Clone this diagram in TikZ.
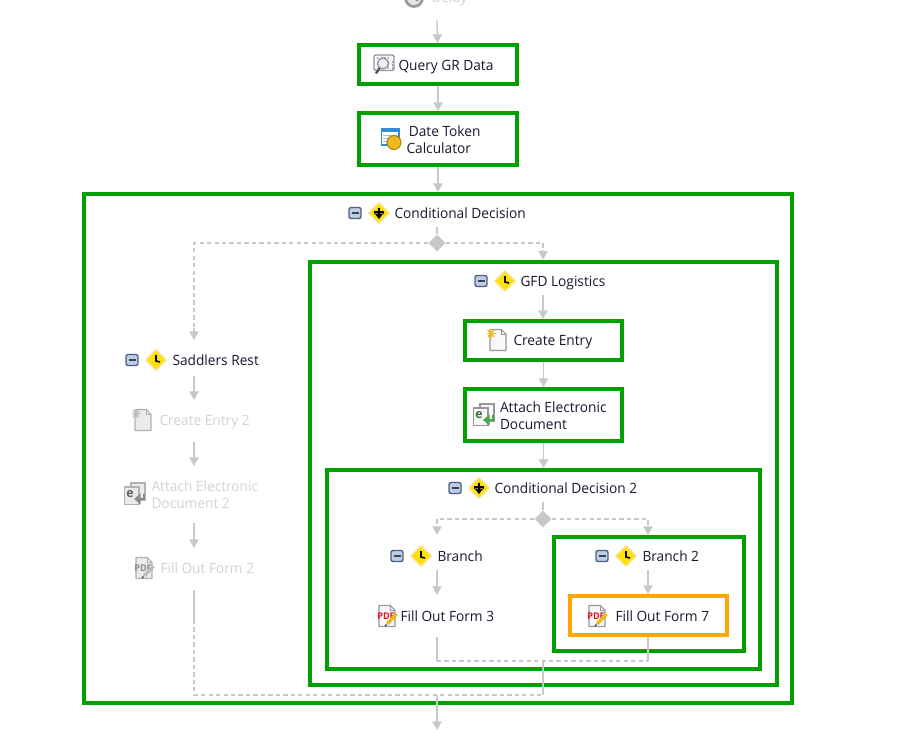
\documentclass[tikz,border=0pt]{standalone}
\usepackage{fontspec}
\setmainfont[FakeStretch=0.97]{Open Sans}
\usepackage{tikz}
\usetikzlibrary{arrows.meta,shapes.geometric}
\definecolor{boxgreen}{RGB}{0,160,0}
\definecolor{boxorange}{RGB}{255,166,0}
\definecolor{flowgray}{RGB}{200,200,200}
\definecolor{labelink}{RGB}{22,24,48}
\definecolor{fadeink}{RGB}{210,210,210}
\definecolor{pagefill}{RGB}{248,248,250}
\definecolor{pageline}{RGB}{150,150,155}
\definecolor{iconred}{RGB}{225,20,30}
\definecolor{icongold}{RGB}{240,185,30}
\definecolor{icongreen}{RGB}{70,170,70}
\definecolor{iconblue}{RGB}{50,140,215}
\definecolor{minusedge}{RGB}{75,95,130}
\definecolor{minusfill}{RGB}{190,205,225}
\definecolor{signyellow}{RGB}{255,225,0}
\definecolor{signedge}{RGB}{250,225,130}
\tikzset{every picture/.style={line width=0.75pt},
  stepbox/.style={draw=boxgreen,line width=3pt,inner sep=0pt},
  formbox/.style={draw=boxorange,line width=3pt,inner sep=0pt},
  steptext/.style={anchor=base west,inner sep=0pt,align=left,text=labelink,font=\fontsize{10.6}{13}\selectfont},
  fadetext/.style={steptext,text=fadeink},
  blocktext/.style={steptext,anchor=west},
  fadeblock/.style={fadetext,anchor=west},
  flow/.style={draw=flowgray,line width=1pt,-{Triangle[length=6.5pt,width=7pt,fill=flowgray]}},
  flowplain/.style={draw=flowgray,line width=1pt},
  flowdash/.style={draw=flowgray,line width=0.9pt,dash pattern=on 3.2pt off 2.4pt},
  forkmark/.style={diamond,fill=flowgray,inner sep=0pt,minimum size=13pt},
  minusicon/.pic={
    \draw[rounded corners=1.5,draw=minusedge,fill=minusfill,line width=1pt] (-6,-5.5) rectangle (6,5.5);
    \draw[draw=minusedge!70!black,line width=1.2pt] (-3.5,0) -- (3.5,0);
  },
  forkicon/.pic={
    \draw[draw=signedge,fill=signyellow,line width=1.2pt,line join=round] (0,10) -- (10,0) -- (0,-10) -- (-10,0) -- cycle;
    \draw[black,line width=1.3pt,-{Triangle[length=4pt,width=6pt]}] (0,5.5) -- (0,-6);
    \draw[black,line width=1.3pt] (-4.5,-1) -- (-4.5,1) -- (4.5,1) -- (4.5,-1);
  },
  clockicon/.pic={
    \draw[draw=signedge,fill=signyellow,line width=1.2pt,line join=round] (0,10) -- (10,0) -- (0,-10) -- (-10,0) -- cycle;
    \draw[black,line width=1.2pt] (0,5) -- (0,-1) -- (4,-2);
  },
  pageicon/.pic={
    \draw[draw=pageline,fill=pagefill,line width=0.8pt,line join=round] (-8,10.5) -- (3.5,10.5) -- (8,6) -- (8,-10.5) -- (-8,-10.5) -- cycle;
    \draw[draw=pageline,line width=0.6pt] (3.5,10.5) -- (3.5,6) -- (8,6);
  },
  newicon/.pic={
    \pic {pageicon};
    \foreach \ang in {0,45,...,315} \draw[icongold,line width=0.9pt] (-7,6.5) -- ++(\ang:4.5);
  },
  pdficon/.pic={
    \pic {pageicon};
    \node[inner sep=0pt,text=iconred,font=\fontsize{7}{7}\selectfont\bfseries] at (-1,-0.5) {PDF};
    \draw[icongold,line width=2.6pt] (0,-8) -- (9.5,2);
    \draw[black!80,line width=1pt] (-2,-10) -- (-0.5,-8.5);
  },
  attachicon/.pic={
    \draw[draw=pageline,fill=pagefill,line width=0.8pt] (-4,11) rectangle (10,-6);
    \draw[draw=pageline,fill=pagefill,line width=0.8pt] (-10.5,7) rectangle (4,-10.5);
    \node[inner sep=0pt,text=icongreen!70!black,font=\fontsize{9.5}{9}\selectfont\bfseries] at (-5,0) {e};
    \draw[icongreen,line width=2.2pt,-{Triangle[length=5pt,width=8pt]}] (9,0) -- (9,-5) -- (-1,-5);
  },
  queryicon/.pic={
    \draw[draw=pageline,fill=pagefill,line width=1pt,rounded corners=1] (-10,9) rectangle (10,-6.5);
    \draw[draw=pageline,line width=0.8pt,dotted] (-7,6) -- (7,6) (4,2) -- (8,2) (4,-1) -- (8,-1) (4,-4) -- (8,-4);
    \draw[draw=pageline,fill=iconblue!12,line width=1pt] (-1,0.5) circle (5.5);
    \draw[draw=pageline!60!black,line width=1.8pt] (-4.5,-4) -- (-8,-9.5);
  },
  calcicon/.pic={
    \draw[draw=iconblue,fill=white,line width=1pt] (-9.5,10) rectangle (8,-6);
    \fill[iconblue] (-9.5,10) rectangle (8,7);
    \draw[iconblue!50,line width=0.6pt] (-8,4) -- (6,4) (-8,1) -- (0,1) (-8,-2) -- (-3,-2);
    \draw[draw=icongold!70!black,fill=icongold,line width=0.8pt] (3,-3.5) circle (7);
  },
  delayicon/.pic={
    \draw[draw=black!40,fill=black!10,line width=2pt] (0,0) circle (8.5);
    \draw[black!45,line width=1.2pt] (0,5) -- (0,0) -- (4,-3);
  }
}

\begin{document}
\begin{tikzpicture}[x=0.75pt,y=0.75pt,yscale=-1,xscale=1]
\useasboundingbox (0,0) rectangle (904,744);

% Boxes
\draw (438,64.5) node (qrybox) [stepbox,minimum width=119pt,minimum height=29.25pt] {};
\draw (438,139) node (datebox) [stepbox,minimum width=119pt,minimum height=39pt] {};
\draw (438,448.5) node (condbox) [stepbox,minimum width=531pt,minimum height=381.75pt] {};
\draw (543.5,473.5) node (gfdbox) [stepbox,minimum width=350.25pt,minimum height=317.6pt] {};
\draw (543.5,340.5) node (entrybox) [stepbox,minimum width=118.1pt,minimum height=29.25pt] {};
\draw (543.5,415) node (attachbox) [stepbox,minimum width=118.1pt,minimum height=39pt] {};
\draw (543.5,569.5) node (cond2box) [stepbox,minimum width=324.75pt,minimum height=149.25pt] {};
\draw (649,594) node (branchbox) [stepbox,minimum width=142.5pt,minimum height=85.5pt] {};
\draw (648.5,615.5) node (formrect) [formbox,minimum width=118.1pt,minimum height=29.25pt] {};

% Fork marks
\draw (437,243) node (fork) [forkmark] {};
\draw (543,519) node (fork2) [forkmark] {};

% Flow points
\coordinate (delayout) at (437,20);
\coordinate (condout) at (437,227);
\coordinate (saddturn) at (194,243);
\coordinate (saddfoot) at (194,328);
\coordinate (saddtip) at (194,340);
\coordinate (saddout) at (194,376);
\coordinate (saddin) at (194,400);
\coordinate (entry2out) at (194,442);
\coordinate (entry2in) at (194,466);
\coordinate (attach2out) at (194,523);
\coordinate (attach2in) at (194,548);
\coordinate (form2out) at (194,590);
\coordinate (form2mid) at (194,620);
\coordinate (form2low) at (194,695);
\coordinate (gfdturn) at (543,243);
\coordinate (gfdfoot) at (543,250);
\coordinate (gfdout) at (543,295);
\coordinate (cond2out) at (543,502);
\coordinate (brturn) at (437,519);
\coordinate (brfoot) at (437,526);
\coordinate (brtip) at (437,535);
\coordinate (br2turn) at (648,519);
\coordinate (br2foot) at (648,526);
\coordinate (brout) at (437,570);
\coordinate (form3in) at (437,595);
\coordinate (form3out) at (437,637);
\coordinate (form3mid) at (437,661);
\coordinate (joinin) at (648,661);
\coordinate (join) at (543,661);
\coordinate (join2) at (543,695);
\coordinate (endin) at (437,695);
\coordinate (endtip) at (437,730);
\coordinate (br2out) at (648,570);

% Connectors
\draw [flow] (delayout) -- (qrybox);
\draw [flow] (qrybox) -- (datebox);
\draw [flow] (datebox) -- (datebox |- condbox.north);
\draw [flowplain] (condout) -- (fork);
\draw [flowdash] (fork) -- (saddturn) -- (saddfoot);
\draw [flow] (saddfoot) -- (saddtip);
\draw [flowdash] (fork) -- (gfdturn) -- (gfdfoot);
\draw [flow] (gfdfoot) -- (gfdfoot |- gfdbox.north);
\draw [flow] (saddout) -- (saddin);
\draw [flow] (entry2out) -- (entry2in);
\draw [flow] (attach2out) -- (attach2in);
\draw [flowplain] (form2out) -- (form2mid);
\draw [flowdash] (form2mid) -- (form2low) -- (join2);
\draw [flow] (gfdout) -- (gfdout |- entrybox.north);
\draw [flow] (entrybox) -- (attachbox);
\draw [flow] (attachbox) -- (attachbox |- cond2box.north);
\draw [flowplain] (cond2out) -- (fork2);
\draw [flowdash] (fork2) -- (brturn) -- (brfoot);
\draw [flow] (brfoot) -- (brtip);
\draw [flowdash] (fork2) -- (br2turn) -- (br2foot);
\draw [flow] (br2foot) -- (br2foot |- branchbox.north);
\draw [flow] (brout) -- (form3in);
\draw [flow] (br2out) -- (br2out |- formrect.north);
\draw [flowplain] (form3out) -- (form3mid);
\draw [flowplain] (joinin |- formrect.south) -- (joinin);
\draw [flowdash] (form3mid) -- (joinin);
\draw [flowplain] (join) -- (join2);
\draw [flow] (endin) -- (endtip);

% Icons
\pic at (414,-2) {delayicon};
\pic at (384,64) {queryicon};
\pic at (391,139) {calcicon};
\pic at (355,213) {minusicon};
\pic at (379,213) {forkicon};
\pic at (132,360) {minusicon};
\pic at (156,360) {clockicon};
\pic at (481,281) {minusicon};
\pic at (505,281) {clockicon};
\pic at (498,340) {newicon};
\pic at (484,415) {attachicon};
\pic at (455,488) {minusicon};
\pic at (479,488) {forkicon};
\pic at (397,556) {minusicon};
\pic at (421,556) {clockicon};
\pic at (602,556) {minusicon};
\pic at (626,556) {clockicon};
\pic at (387,616) {pdficon};
\pic at (597,616) {pdficon};
\begin{scope}
\colorlet{pagefill}{black!8}
\colorlet{pageline}{black!30}
\colorlet{iconred}{black!45}
\colorlet{icongold}{black!25}
\colorlet{icongreen}{black!45}
\pic at (143,420) {newicon};
\pic at (135,494) {attachicon};
\pic at (144,568) {pdficon};
\end{scope}

% Text Node
\draw (431,2) node (delaytxt) [fadetext] {Delay};
\draw (398,70) node (qrytxt) [steptext] {Query GR Data};
\draw (406,139.5) node (datetxt) [blocktext] {\,Date Token\\Calculator};
\draw (394,218.5) node (condtxt) [steptext] {Conditional Decision};
\draw (172,365.5) node (saddtxt) [steptext] {Saddlers Rest};
\draw (159,425.5) node (entry2txt) [fadetext] {Create Entry 2};
\draw (151,495) node (attach2txt) [fadeblock] {Attach Electronic\\Document 2};
\draw (160,573.5) node (form2txt) [fadetext] {Fill Out Form 2};
\draw (520,286) node (gfdtxt) [steptext] {GFD Logistics};
\draw (513,345.5) node (entrytxt) [steptext] {Create Entry};
\draw (499.5,415.5) node (attachtxt) [blocktext] {Attach Electronic\\Document};
\draw (494,493.5) node (cond2txt) [steptext] {Conditional Decision 2};
\draw (437,561.5) node (brtxt) [steptext] {Branch};
\draw (642,561.5) node (br2txt) [steptext] {Branch 2};
\draw (400,621) node (form3txt) [steptext] {Fill Out Form 3};
\draw (615,621) node (form7txt) [steptext] {Fill Out Form 7};

\end{tikzpicture}
\end{document}
